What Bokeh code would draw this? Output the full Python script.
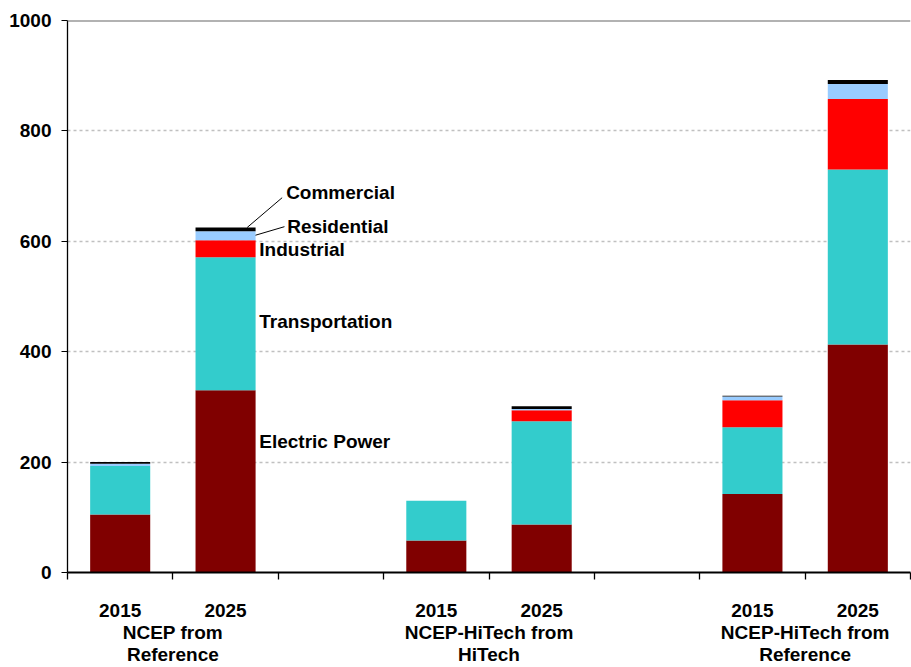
from bokeh.plotting import figure
from bokeh.models import (ColumnDataSource, FixedTicker, Label, Span)
from bokeh.embed import file_html
from bokeh.resources import INLINE

# ---------------- data ----------------
years = ["2015", "2025", "2015", "2025", "2015", "2025"]
groups = ["NCEP from\nReference", "NCEP-HiTech from\nHiTech", "NCEP-HiTech from\nReference"]
sectors = ["Electric Power", "Transportation", "Industrial", "Residential", "Commercial"]
electric_power = [105, 330, 58, 87, 142, 413]
transportation = [88, 241, 72, 187, 121, 317]
industrial = [0, 31, 0, 20, 49, 128]
residential = [4, 16, 0, 2, 7, 27]
commercial = [3, 7, 0, 5, 1, 7]
colors = ["#800000", "#33CCCC", "#FF0000", "#99CCFF", "#000000"]
y_ticks = [0, 200, 400, 600, 800, 1000]

# slot layout: 8 slots, bars in slots 0,1,3,4,6,7
slots = [0, 1, 3, 4, 6, 7]
centers = [s + 0.5 for s in slots]
boundaries = list(range(0, 9))
group_centers = [1, 4, 7]

FONT = "Liberation Sans"

p = figure(width=911, height=667, x_range=(0, 8), y_range=(0, 1000),
           output_backend="svg", toolbar_location=None,
           min_border_left=67, min_border_right=1, min_border_top=20,
           min_border_bottom=92)
p.outline_line_color = None
p.background_fill_color = "white"
p.border_fill_color = "white"

src = ColumnDataSource(dict(x=centers, ep=electric_power, tr=transportation,
                            ind=industrial, res=residential, com=commercial))
p.vbar_stack(["ep", "tr", "ind", "res", "com"], x="x", width=0.57, source=src,
             color=colors, line_color=None)

# grid
p.xgrid.visible = False
p.ygrid.ticker = FixedTicker(ticks=y_ticks)
p.ygrid.grid_line_color = "#c0c0c0"
p.ygrid.grid_line_dash = "3 3"
p.ygrid.grid_line_width = 1.3
p.add_layout(Span(location=y_ticks[-1], dimension="width", line_color="#666666",
                  line_width=2))

# y axis
ya = p.yaxis[0]
ya.ticker = FixedTicker(ticks=y_ticks)
ya.major_tick_out = 6
ya.major_tick_in = 0
ya.minor_tick_out = 0
ya.minor_tick_in = 0
ya.axis_line_color = "black"
ya.axis_line_width = 1.3
ya.major_tick_line_color = "black"
ya.major_label_standoff = 10
ya.major_label_text_font = FONT
ya.major_label_text_font_style = "bold"
ya.major_label_text_font_size = "19px"
ya.major_label_text_color = "black"

# x axis: years at bar centers, group names (second/third line) at group
# centers, minor ticks at slot boundaries
labels = {c: y for c, y in zip(centers, years)}
labels.update({c: "\n" + g for c, g in zip(group_centers, groups)})
xa = p.xaxis[0]
xa.ticker = FixedTicker(ticks=sorted(centers + group_centers), minor_ticks=boundaries)
xa.major_label_overrides = labels
xa.major_tick_out = 0
xa.major_tick_in = 0
xa.minor_tick_out = 7
xa.minor_tick_in = 0
xa.minor_tick_line_color = "black"
xa.minor_tick_line_width = 1.3
xa.axis_line_color = "black"
xa.axis_line_width = 2
xa.major_label_standoff = 20
xa.major_label_text_font = FONT
xa.major_label_text_font_style = "bold"
xa.major_label_text_font_size = "19px"
xa.major_label_text_color = "black"
xa.major_label_text_line_height = 1.05

# sector labels next to the second bar
lab_x = [1.82, 1.82, 1.82, 2.085, 2.075]
lab_y = [238, 455, 586, 627, 689]
for s, lx, ly in zip(sectors, lab_x, lab_y):
    p.add_layout(Label(x=lx, y=ly, text=s, text_font=FONT, text_font_style="bold",
                       text_font_size="19px", text_baseline="middle",
                       text_align="left", text_color="black"))

# leader lines for Residential and Commercial
p.segment(x0=[1.784, 1.705], y0=[611, 625], x1=[2.059, 2.037], y1=[626.5, 679],
          line_color="black", line_width=1)

open("out.html", "w").write(file_html(p, INLINE))
